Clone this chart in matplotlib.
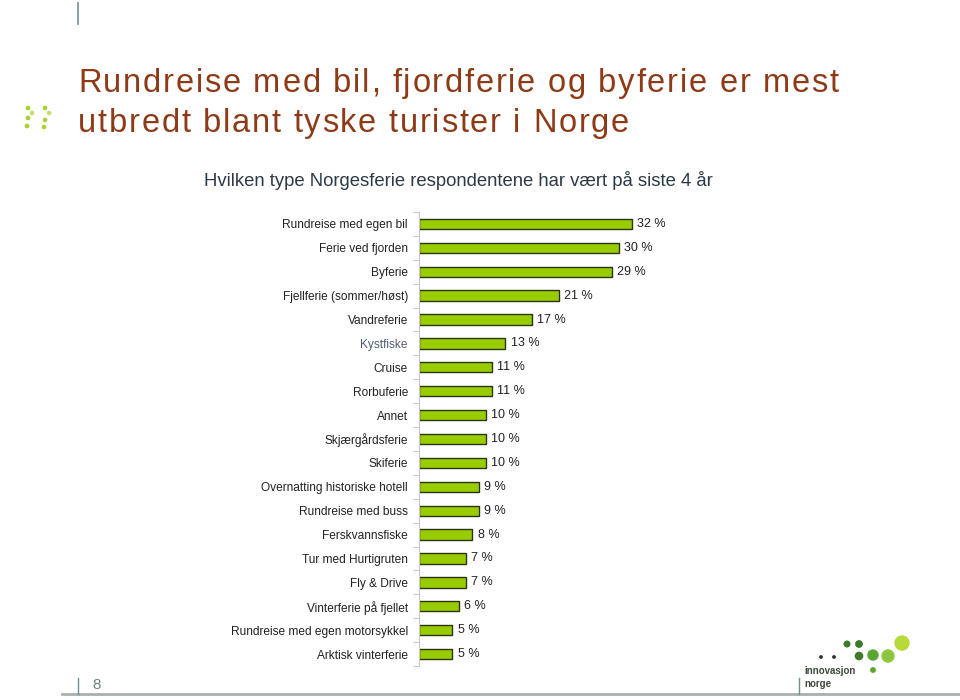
import matplotlib
matplotlib.use("Agg")

import matplotlib.pyplot as plt
from matplotlib.patches import Circle
from matplotlib.lines import Line2D
from matplotlib.textpath import TextToPath
from matplotlib.font_manager import FontProperties

kategorier = [
    "Rundreise med egen bil", "Ferie ved fjorden", "Byferie",
    "Fjellferie (sommer/høst)", "Vandreferie", "Kystfiske", "Cruise",
    "Rorbuferie", "Annet", "Skjærgårdsferie", "Skiferie",
    "Overnatting historiske hotell", "Rundreise med buss", "Ferskvannsfiske",
    "Tur med Hurtigruten", "Fly & Drive", "Vinterferie på fjellet",
    "Rundreise med egen motorsykkel", "Arktisk vinterferie",
]
andel = [32, 30, 29, 21, 17, 13, 11, 11, 10, 10, 10, 9, 9, 8, 7, 7, 6, 5, 5]

tittel_linjer = ["Rundreise med bil, fjordferie og byferie er mest",
                 "utbredt blant tyske turister i Norge"]
undertittel = "Hvilken type Norgesferie respondentene har vært på siste 4 år"

plt.rcParams["font.family"] = ["Liberation Sans", "DejaVu Sans"]

W, H = 960, 700
fig = plt.figure(figsize=(9.6, 7.0), dpi=100)

deco = fig.add_axes([0, 0, 1, 1])
deco.set_xlim(0, W)
deco.set_ylim(H, 0)
deco.axis("off")


def spaced_text(x, y, s, size, color, tracking):
    # draw text one character at a time with extra letter spacing (pixels)
    fp = FontProperties(family="Liberation Sans", size=size)
    t2p = TextToPath()
    px_per_pt = 100 / 72
    for ch in s:
        deco.text(x, y, ch, fontsize=size, color=color, ha="left", va="baseline",
                  family="Liberation Sans")
        w, _, _ = t2p.get_text_width_height_descent(ch, fp, ismath=False)
        x += w * px_per_pt + tracking


# title and subtitle
spaced_text(78, 92, tittel_linjer[0], 23.5, "#8e3a17", 1.75)
spaced_text(78, 132, tittel_linjer[1], 23.5, "#8e3a17", 1.75)
deco.text(458, 180, undertittel, fontsize=13.3, color="#2c3a46",
          ha="center", va="center")

# bar chart
ax = fig.add_axes([419 / W, 34 / H, 266 / W, 454 / H])
y = list(range(len(kategorier)))
ax.barh(y, andel, height=0.43, color="#99cc00", edgecolor="#2b3310", linewidth=1.0)
for yi, v in zip(y, andel):
    ax.text(v + 0.8, yi, f"{v} %", fontsize=9, color="#222222", va="center", ha="left")

ax.set_xlim(0, 40)
ax.set_ylim(len(kategorier) - 0.5, -0.5)
ax.set_yticks(y)
ax.set_yticklabels(kategorier, fontsize=8.6, color="#222222")
for lbl in ax.get_yticklabels():
    if lbl.get_text() == "Kystfiske":
        lbl.set_color("#4f5f73")
ax.tick_params(axis="y", length=0, pad=8)
ax.set_yticks([i + 0.5 for i in range(-1, len(kategorier))], minor=True)
ax.tick_params(axis="y", which="minor", length=4, color="#c8c8d4", width=0.8)
ax.set_xticks([])
for s in ["top", "right", "bottom"]:
    ax.spines[s].set_visible(False)
ax.spines["left"].set_color("#c8c8d4")
ax.spines["left"].set_linewidth(0.8)

# decorations
deco.add_line(Line2D([78, 78], [3, 24], color="#6f8f8f", linewidth=1.2))
deco.add_line(Line2D([62, 960], [694, 694], color="#a8b0b0", linewidth=2))
deco.add_line(Line2D([78, 78], [678, 694], color="#6f8f8f", linewidth=1.0))
deco.add_line(Line2D([799, 799], [678, 694], color="#6f8f8f", linewidth=1.0))
deco.text(97, 685, "8", fontsize=11, color="#6f8080", ha="center", va="center")

for cx, cy, r, c in [(28, 108, 1.6, "#a9d12c"), (32, 113, 1.6, "#c4e06a"),
                     (28, 118, 1.6, "#a9d12c"), (27, 126, 1.6, "#a9d12c"),
                     (45, 108, 1.6, "#a9d12c"), (49, 113, 1.6, "#c4e06a"),
                     (45, 120, 1.6, "#a9d12c"), (44, 127, 1.6, "#a9d12c")]:
    deco.add_patch(Circle((cx, cy), r, color=c))

for cx, cy, r, c in [(821, 657, 1.2, "#333333"), (834, 657, 1.2, "#333333"),
                     (847, 644, 2.8, "#3d7a2a"), (859, 644, 3.2, "#3d7a2a"),
                     (859, 656, 3.6, "#3d7a2a"), (873, 655, 5.0, "#5aa631"),
                     (888, 656, 6.0, "#8cc63f"), (902, 643, 7.0, "#b8d93a"),
                     (873, 670, 2.2, "#5aa631")]:
    deco.add_patch(Circle((cx, cy), r, color=c))
deco.text(804, 671, "innovasjon", fontsize=7, color="#3a4a3a", ha="left",
          va="center", fontweight="bold")
deco.text(804, 684, "norge", fontsize=7, color="#3a4a3a", ha="left",
          va="center", fontweight="bold")

fig.savefig("out.png", dpi=100)
